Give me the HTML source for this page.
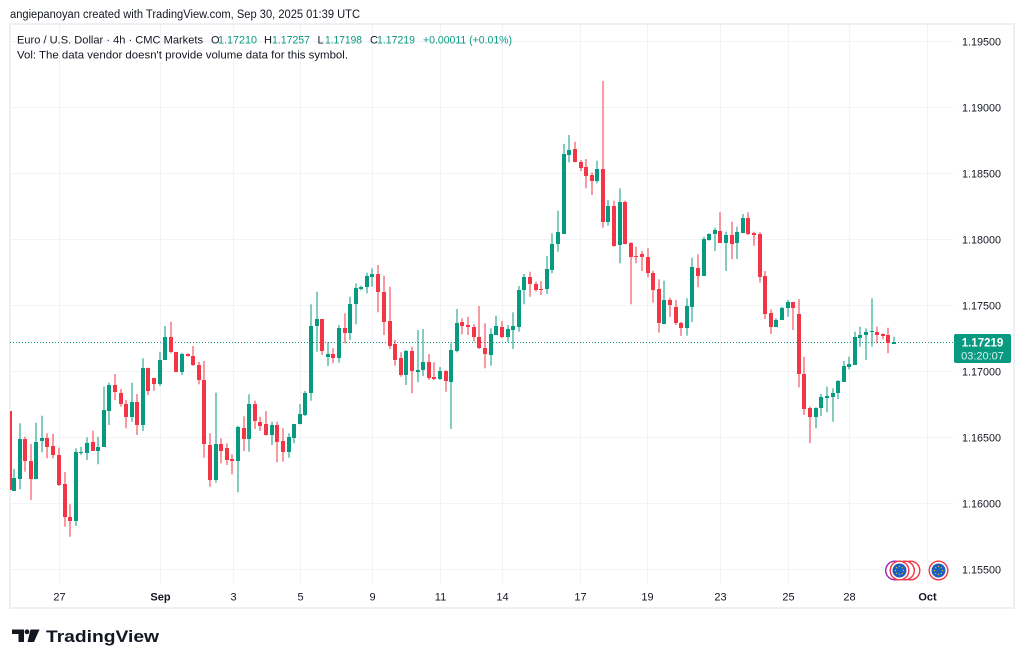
<!DOCTYPE html>
<html><head><meta charset="utf-8"><style>
html,body{margin:0;padding:0;background:#fff;}
svg{display:block;}
text{font-family:"Liberation Sans",sans-serif;}
</style></head><body>
<svg id="s" width="1024" height="665" viewBox="0 0 1024 665" xmlns="http://www.w3.org/2000/svg">
<rect width="1024" height="665" fill="#fff"/>
<text x="10" y="18" font-size="11.5" fill="#131722" textLength="350" lengthAdjust="spacingAndGlyphs">angiepanoyan created with TradingView.com, Sep 30, 2025 01:39 UTC</text>
<rect x="10" y="24" width="1004" height="584" fill="none" stroke="#eef0f4" stroke-width="2"/>
<g stroke="#f1f3f6" stroke-width="1" shape-rendering="crispEdges">
<line x1="10" x2="953" y1="41.5" y2="41.5"/><line x1="10" x2="953" y1="107.5" y2="107.5"/><line x1="10" x2="953" y1="173.5" y2="173.5"/><line x1="10" x2="953" y1="239.5" y2="239.5"/><line x1="10" x2="953" y1="305.5" y2="305.5"/><line x1="10" x2="953" y1="371.5" y2="371.5"/><line x1="10" x2="953" y1="437.5" y2="437.5"/><line x1="10" x2="953" y1="503.5" y2="503.5"/><line x1="10" x2="953" y1="569.5" y2="569.5"/>
<line y1="25" y2="583" x1="59.5" x2="59.5"/><line y1="25" y2="583" x1="160.5" x2="160.5"/><line y1="25" y2="583" x1="233.5" x2="233.5"/><line y1="25" y2="583" x1="300.5" x2="300.5"/><line y1="25" y2="583" x1="372.5" x2="372.5"/><line y1="25" y2="583" x1="440.5" x2="440.5"/><line y1="25" y2="583" x1="502.5" x2="502.5"/><line y1="25" y2="583" x1="580.5" x2="580.5"/><line y1="25" y2="583" x1="647.5" x2="647.5"/><line y1="25" y2="583" x1="720.5" x2="720.5"/><line y1="25" y2="583" x1="788.5" x2="788.5"/><line y1="25" y2="583" x1="849.5" x2="849.5"/><line y1="25" y2="583" x1="927.5" x2="927.5"/>
</g>
<text y="43.3" font-size="11" fill="#131722"><tspan x="17" textLength="186" lengthAdjust="spacingAndGlyphs">Euro / U.S. Dollar · 4h · CMC Markets</tspan></text>
<text y="43.3" font-size="11" fill="#131722"><tspan x="211">O</tspan><tspan x="264">H</tspan><tspan x="317.5">L</tspan><tspan x="370">C</tspan></text>
<text y="43.3" font-size="11" fill="#089981"><tspan x="218" textLength="39" lengthAdjust="spacingAndGlyphs">1.17210</tspan><tspan x="272" textLength="38" lengthAdjust="spacingAndGlyphs">1.17257</tspan><tspan x="325" textLength="37" lengthAdjust="spacingAndGlyphs">1.17198</tspan><tspan x="377" textLength="38" lengthAdjust="spacingAndGlyphs">1.17219</tspan><tspan x="423" textLength="89" lengthAdjust="spacingAndGlyphs">+0.00011 (+0.01%)</tspan></text>
<text x="17" y="58.3" font-size="11" fill="#131722" textLength="331" lengthAdjust="spacingAndGlyphs">Vol: The data vendor doesn't provide volume data for this symbol.</text>
<g font-size="11" fill="#131722">
<text x="962" y="45.5" textLength="39" lengthAdjust="spacingAndGlyphs">1.19500</text>
<text x="962" y="111.5" textLength="39" lengthAdjust="spacingAndGlyphs">1.19000</text>
<text x="962" y="177.5" textLength="39" lengthAdjust="spacingAndGlyphs">1.18500</text>
<text x="962" y="243.5" textLength="39" lengthAdjust="spacingAndGlyphs">1.18000</text>
<text x="962" y="309.5" textLength="39" lengthAdjust="spacingAndGlyphs">1.17500</text>
<text x="962" y="375.5" textLength="39" lengthAdjust="spacingAndGlyphs">1.17000</text>
<text x="962" y="441.5" textLength="39" lengthAdjust="spacingAndGlyphs">1.16500</text>
<text x="962" y="507.5" textLength="39" lengthAdjust="spacingAndGlyphs">1.16000</text>
<text x="962" y="573.5" textLength="39" lengthAdjust="spacingAndGlyphs">1.15500</text>
</g>
<g font-size="11" fill="#131722" text-anchor="middle">
<text x="59.5" y="600.5">27</text>
<text x="160.5" y="600.5" font-weight="bold">Sep</text>
<text x="233.5" y="600.5">3</text>
<text x="300.5" y="600.5">5</text>
<text x="372.5" y="600.5">9</text>
<text x="440.5" y="600.5">11</text>
<text x="502.5" y="600.5">14</text>
<text x="580.5" y="600.5">17</text>
<text x="647.5" y="600.5">19</text>
<text x="720.5" y="600.5">23</text>
<text x="788.5" y="600.5">25</text>
<text x="849.5" y="600.5">28</text>
<text x="927.5" y="600.5" font-weight="bold">Oct</text>
</g>
<line x1="10" x2="953" y1="342.5" y2="342.5" stroke="#089981" stroke-width="1" stroke-dasharray="1,2"/>
<g id="c"></g>
<rect x="10" y="411" width="2" height="79" fill="#f23645"/>
<rect x="954" y="334" width="57" height="29" rx="2" fill="#089981"/>
<text x="982.5" y="346.5" font-size="11.5" font-weight="bold" fill="#fff" text-anchor="middle">1.17219</text>
<text x="982.5" y="359.5" font-size="11" fill="#fff" fill-opacity="0.85" text-anchor="middle">03:20:07</text>
<g>
<circle cx="910.5" cy="570.5" r="9.3" fill="#fff" stroke="#f23645" stroke-width="1.4"/>
<circle cx="905" cy="570.5" r="9.3" fill="#fff" stroke="#f23645" stroke-width="1.4"/>
<circle cx="895" cy="570.5" r="9.3" fill="#fff" stroke="#9c27b0" stroke-width="1.4"/>
<circle cx="899.5" cy="570.5" r="9.3" fill="#fff" stroke="#f23645" stroke-width="1.4"/>
<circle cx="899.5" cy="570.5" r="7" fill="#1d5fbf"/>
<circle cx="938.5" cy="570.5" r="9.3" fill="#fff" stroke="#f23645" stroke-width="1.4"/>
<circle cx="938.5" cy="570.5" r="7" fill="#1d5fbf"/>
<g fill="#ffd200">
<circle cx="899.5" cy="566.5" r="0.6"/><circle cx="903.5" cy="570.5" r="0.6"/><circle cx="899.5" cy="574.5" r="0.6"/><circle cx="895.5" cy="570.5" r="0.6"/><circle cx="902.3" cy="567.7" r="0.6"/><circle cx="896.7" cy="573.3" r="0.6"/><circle cx="902.3" cy="573.3" r="0.6"/><circle cx="896.7" cy="567.7" r="0.6"/>
<circle cx="938.5" cy="566.5" r="0.6"/><circle cx="942.5" cy="570.5" r="0.6"/><circle cx="938.5" cy="574.5" r="0.6"/><circle cx="934.5" cy="570.5" r="0.6"/><circle cx="941.3" cy="567.7" r="0.6"/><circle cx="935.7" cy="573.3" r="0.6"/><circle cx="941.3" cy="573.3" r="0.6"/><circle cx="935.7" cy="567.7" r="0.6"/>
</g>
</g>
<g fill="#131722">
<path d="M12 629.5 H24 V642 H18.5 V634 H12 Z"/>
<circle cx="27" cy="631.8" r="2.4"/>
<path d="M30.5 629.5 H39.5 L34 642 H27.5 Z"/>
</g>
<text x="46" y="642" font-size="17" font-weight="bold" fill="#131722" textLength="113" lengthAdjust="spacingAndGlyphs">TradingView</text>
</svg>
<script>
var d=[
[14,469,478.3,490.7,490.7],[20.7,423.3,439.3,479,489.3,1],[25.7,436.7,439.3,460.7,471.7,0],[31.7,444,460.7,479.3,500,0],[36.7,422.7,442,479.3,479.3,1],[42.7,415.7,438,441.3,452.3,1],[47.7,433.3,438,446.7,458.3,0],[53.7,433.7,446,454.7,458.3,0],[59.3,447.7,454.7,484.7,486,0],[65.3,472,484.3,517.3,526.7,0],[70.3,504.3,517.3,521.3,536.7,0],[76,448.3,452.3,520.7,526,1],[81.7,446.7,451.7,452.7,455,1],[87.3,437.3,442.7,453.3,460,1],[93,430.7,442.3,450.7,450.7,0],[98.7,436.7,446.7,450.7,464.3,1],[104,386.7,410.3,446.7,446.7,1],[109.7,382.7,385,410.7,425,1],[115,374,385.3,392,400,0],[121,389,393.3,404,406.7,0],[126.7,400,404,417.3,428.3,0],[132,382.7,402.3,417.3,421.7,1],[137.3,394,402.3,425,435,0],[143.3,358.3,368.3,425,431,1],[148.7,367.7,367.7,390.7,395,0],[154.3,377.7,377.7,384,390.7,0],[160,351.7,360,384,386,1],[165.7,326,336.7,360,360,1],[171,321.7,337.3,352.3,353.3,0],[176.7,351.7,351.7,371.7,371.7,0],
[182.7,352.7,354,371.7,375,1],[188.3,353.3,354.3,356.3,356.7,0],[193.7,346,356,365.3,366,0],[199.3,361.7,365,379.7,384.3,0],[204.7,361,379.7,444.3,457.7,0],[210.3,433.3,444.7,480,486.7,0],[216,392.7,444,480,482.7,1],[221.7,438.3,444,450.7,463.3,0],[227,443.3,447.7,459.7,465,0],[232.7,454.3,459,461,474.3,0],[238.3,425.7,427.3,461,492.3,1],[244,416.3,427.7,439,451,0],[249.7,394.3,403.7,439,451.7,1],[255.3,400.7,403.7,421,429,0],[260.7,416.7,421.7,425.7,431,0],[266.3,411,424.3,435,435.7,0],[272,421.7,425,435,445,1],[277.7,421.7,425,442.3,462.3,0],[283.3,428.3,441,451.7,461.7,0],[289,433.3,436.7,451.7,457.7,1],[294.3,424,424,437.7,443.3,1],[300,404,414,424.3,424.3,1],[305.7,391,392.7,415,416,1],[311.3,304.3,326,393.3,400.7,1],[317,291.7,319.3,326,351.7,1],[322.7,319.3,319.3,350.7,355,0],[328,342.3,354.3,357,366,1],[333.7,348.3,354,358.3,363.3,0],[339.3,325,327.7,358.3,362.7,1],[345,313.3,327.7,332.7,343.3,0],[350.3,296.7,304.3,333.3,340,1],[356,283.3,287.7,304.3,324.3,1],[361.7,285.7,287,288.7,290.3,1],[367.3,272.7,276,287,293.3,1],[372.7,268.3,274.3,276.7,286.7,1],[378.7,265,274.3,292.3,312.3,0],[384,275.7,292.3,321.7,335,0],[390,286.7,321,346,349,0],[395.3,340,344.3,360,365.7,0],
[401,352.3,358.3,375,376.7,0],[406.7,350,350.7,375,385,1],[412.3,346.7,350.7,370.7,393.3,0],[418,330,369.7,371.7,382.3,1],[423.7,329,362.3,370,376,1],[429,354,362.3,377.7,380,0],[434.7,362.3,376.7,379,380,0],[440.3,367,371,379.3,380,1],[446,370.3,371,381,391.7,0],[451.3,343.3,350,381.7,429,1],[457,309,323.3,351,352.3,1],[462.7,318.3,322.3,325.7,334.3,0],[468.3,316.7,325,327.3,335,0],[474,324.3,326.7,337.3,341.7,0],[479.7,306,336.7,347.7,349,0],[485.3,323.3,347.7,354.3,368.3,0],[491,328.3,334.3,355,365.7,1],[496.7,315.7,326,335,335,1],[502.3,321,327.3,337.3,338.3,0],[508,325,329,337.3,341.7,1],[513.3,312.3,325.7,330,349,1],[519,286,290,326.7,331.7,1],[524.7,274,276.7,290,304.3,1],[530.3,271.7,276.7,284.3,296.7,0],[536,281.7,284,290,291.7,0],[541.7,281,289,290,295,0],[547,256,269.3,289,294,1],[552.7,233.3,244.3,270,273.3,1],[558.3,210.7,232.3,244.3,251.7,1],[564,144,153.7,233.7,233.7,1],[569.7,135,150.3,155,162.3,1],[575.3,141.7,149,161.7,162.3,0],[581,160,162.3,167.7,171,0],[586.7,159,167.3,175.7,188.3,0],[592,172.3,175,181,195,0],[597.7,160.7,169,181,183.3,1],[603,81,169,221.7,227.7,0],[608.7,200,205.7,221.7,225.7,1],[614.3,200.7,205.7,246,246.7,0],[620,188.3,201.7,245,263.3,1],
[625.3,200.7,201.7,244.3,244.3,0],[631.3,242.3,243.3,256.7,304.3,0],[636.7,246.7,256,257,263.3,0],[642.3,251,254.3,256.7,271,0],[648,248.3,256.7,273.3,277.3,0],[653.7,270.7,273.3,290,302.7,0],[659,279.3,289.3,323.3,332.7,0],[664.7,280.7,300,324.3,324.3,1],[670.3,297.7,300,305,316.7,0],[676,300,307.3,322.7,325,0],[681.3,321.7,322.7,327.7,336,0],[687,298.3,306,328.3,335.7,1],[692.7,257.7,267.3,307.3,322,1],[698.3,254.3,267.7,276,287.3,0],[704,236.7,239,276,276,1],[709.7,233.3,234.3,240,240.7,1],[715,227.7,230,234,251,1],[720.7,212.3,230.7,242.7,242.7,0],[726.3,231.7,235,242.7,271,1],[732,221.7,235,244,259.3,0],[737.3,226.7,232.3,243.3,259,1],[743,214,218.3,233.3,233.3,1],[748.7,212.3,218.3,234,235,0],[754.3,231.7,232.7,235,245.7,0],[760,232.3,234,276.7,282.7,0],[765.7,271,276,314,319,0],[771.3,309.3,313.3,327.3,334,0],[776.7,318.3,320,327.3,327.3,1],[782.3,306.7,307.7,320,320,1],[788,300,302.3,308.3,316.7,1],[793.3,302.3,302.3,308.3,330,0],[799.3,299,314,374.3,387.3,0],[804.7,356.7,374,409.3,415,0],[810.3,406.7,408.3,416.7,443.3,0],[816,407.3,408.3,416.7,428.3,1],[821.7,394,396.7,408.3,416,1],[827.3,386.7,395.7,397.7,412.3,1],[833,388.3,392.7,397.3,421.7,1],[838.3,380,380.7,392.7,399,1],[844,361,365.7,381.7,381.7,1],[849.7,356.7,364,366.7,369.3,1],[855.3,331.7,337.3,364.7,364.7,1],[860.7,326.7,335,338.3,346.7,1],[866.3,328.3,332,335,360,1],[872,298.3,331.3,332.3,346.7,1],[877.7,326.7,332,335,343.3,0],[883.3,333.3,334,335.7,339.3,0],[888.7,327.7,335,343.3,353.3,0],[894.3,336.7,342,344,344,1]
];
d[0][5]=1;
var g=document.getElementById('c'),ns='http://www.w3.org/2000/svg',h='';
for(var i=0;i<d.length;i++){var c=d[i],col=c[5]?'#089981':'#f23645',f=Math.floor(c[0]);
var t=Math.round(c[2]),b=Math.round(c[3]);if(b-t<1)b=t+1;
h+='<rect x="'+(f-0.5)+'" y="'+c[1]+'" width="1" height="'+(c[4]-c[1])+'" fill="'+col+'"/>';
h+='<rect x="'+(f-2)+'" y="'+t+'" width="4" height="'+(b-t)+'" fill="'+col+'"/>';}
g.innerHTML=h;
</script>
</body></html>
